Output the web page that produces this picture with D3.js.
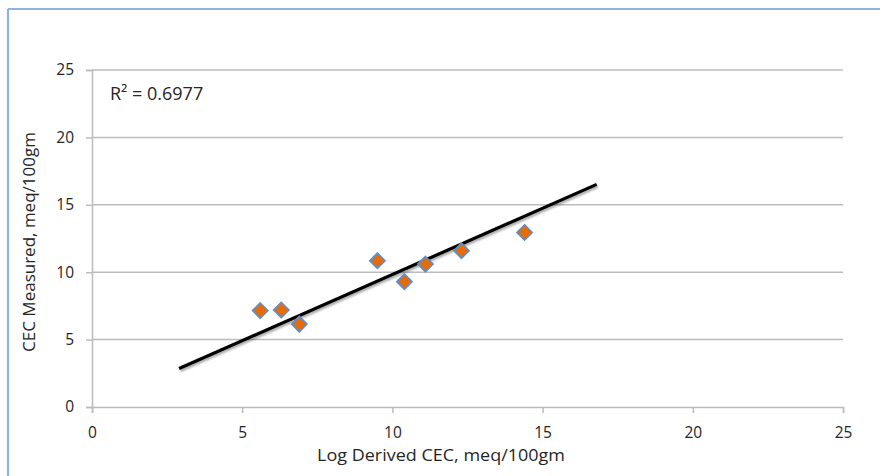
<!DOCTYPE html>
<html>
<head>
<meta charset="utf-8">
<script src="https://cdn.jsdelivr.net/npm/d3@7/dist/d3.min.js"></script>
<style>
  html, body { margin: 0; padding: 0; background: #fff; }
  svg { display: block; }
  text { font-family: "Open Sans", "Liberation Sans", sans-serif; fill: #262626; }
</style>
</head>
<body>
<svg id="chart" width="880" height="476"></svg>
<script>
// Data
const logDerivedCEC = [5.6, 6.3, 6.9, 9.5, 10.4, 11.1, 12.3, 14.4];
const measuredCEC   = [7.15, 7.2, 6.15, 10.85, 9.3, 10.6, 11.6, 12.95];
const xTicks = [0, 5, 10, 15, 20, 25];
const yTicks = [0, 5, 10, 15, 20, 25];
const trendXRange = [2.9, 16.8];
const trendSlope = 0.983;
const trendIntercept = 0.0;
const rSquaredLabel = "R² = 0.6977";
const xTitle = "Log Derived CEC, meq/100gm";
const yTitle = "CEC Measured, meq/100gm";

const svg = d3.select("#chart");
svg.append("rect").attr("width", 880).attr("height", 476).attr("fill", "#fff");

// frame (light blue top/left edges)
svg.append("line").attr("x1", 8).attr("x2", 880).attr("y1", 9).attr("y2", 9)
  .attr("stroke", "#8DB4E2").attr("stroke-width", 2.2);
svg.append("line").attr("x1", 8).attr("x2", 8).attr("y1", 9).attr("y2", 476)
  .attr("stroke", "#8DB4E2").attr("stroke-width", 2.2);

const x = d3.scaleLinear().domain([0, 25]).range([92, 843]);
const y = d3.scaleLinear().domain([0, 25]).range([407, 70]);

// gridlines
svg.append("g").selectAll("line").data(yTicks.filter(d => d > 0)).join("line")
  .attr("x1", x(0)).attr("x2", x(25))
  .attr("y1", d => y(d)).attr("y2", d => y(d))
  .attr("stroke", "#BCBCBC").attr("stroke-width", 1.5);

// axes
const xAxis = svg.append("g").attr("transform", `translate(0,${y(0)})`)
  .call(d3.axisBottom(x).tickValues(xTicks).tickSize(6).tickPadding(14).tickFormat(d3.format("d")));
const yAxis = svg.append("g").attr("transform", `translate(${x(0)},0)`)
  .call(d3.axisLeft(y).tickValues(yTicks).tickSize(6).tickPadding(12).tickFormat(d3.format("d")));
[xAxis, yAxis].forEach(g => {
  g.select(".domain").attr("stroke", "#BCBCBC").attr("stroke-width", 1.5);
  g.selectAll(".tick line").attr("stroke", "#BCBCBC").attr("stroke-width", 1.5);
  g.selectAll(".tick text").attr("font-size", 15.5).attr("fill", "#505050")
    .style("font-family", '"Open Sans", sans-serif');
});

// trendline with soft shadow
const defs = svg.append("defs");
const f = defs.append("filter").attr("id", "shadow").attr("x", "-10%").attr("y", "-10%").attr("width", "120%").attr("height", "140%");
f.append("feGaussianBlur").attr("in", "SourceAlpha").attr("stdDeviation", 1.2).attr("result", "b");
f.append("feOffset").attr("in", "b").attr("dx", 1).attr("dy", 2).attr("result", "o");
f.append("feComponentTransfer").attr("in", "o").attr("result", "o2")
  .append("feFuncA").attr("type", "linear").attr("slope", 0.35);
const m = f.append("feMerge");
m.append("feMergeNode").attr("in", "o2");
m.append("feMergeNode").attr("in", "SourceGraphic");

const trendPts = trendXRange.map(v => [v, trendIntercept + trendSlope * v]);
svg.append("path")
  .attr("d", d3.line().x(d => x(d[0])).y(d => y(d[1]))(trendPts))
  .attr("stroke", "#000").attr("stroke-width", 3.2).attr("fill", "none")
  .attr("filter", "url(#shadow)");

// points
const pts = logDerivedCEC.map((v, i) => ({ x: v, y: measuredCEC[i] }));
svg.append("g").selectAll("path").data(pts).join("path")
  .attr("transform", d => `translate(${x(d.x)},${y(d.y)})`)
  .attr("d", d3.symbol().type(d3.symbolDiamond2).size(150))
  .attr("fill", "#E46C0A").attr("stroke", "#5B8FD0").attr("stroke-width", 1.6);

// R² label
svg.append("text").attr("x", 110).attr("y", 100).attr("font-size", 18).text(rSquaredLabel);

// axis titles
svg.append("text").attr("x", 441).attr("y", 461).attr("text-anchor", "middle")
  .attr("font-size", 17).attr("textLength", 248).attr("lengthAdjust", "spacingAndGlyphs")
  .text(xTitle);
svg.append("text").attr("transform", `translate(35,242) rotate(-90)`).attr("text-anchor", "middle")
  .attr("font-size", 17).text(yTitle);
</script>
</body>
</html>
